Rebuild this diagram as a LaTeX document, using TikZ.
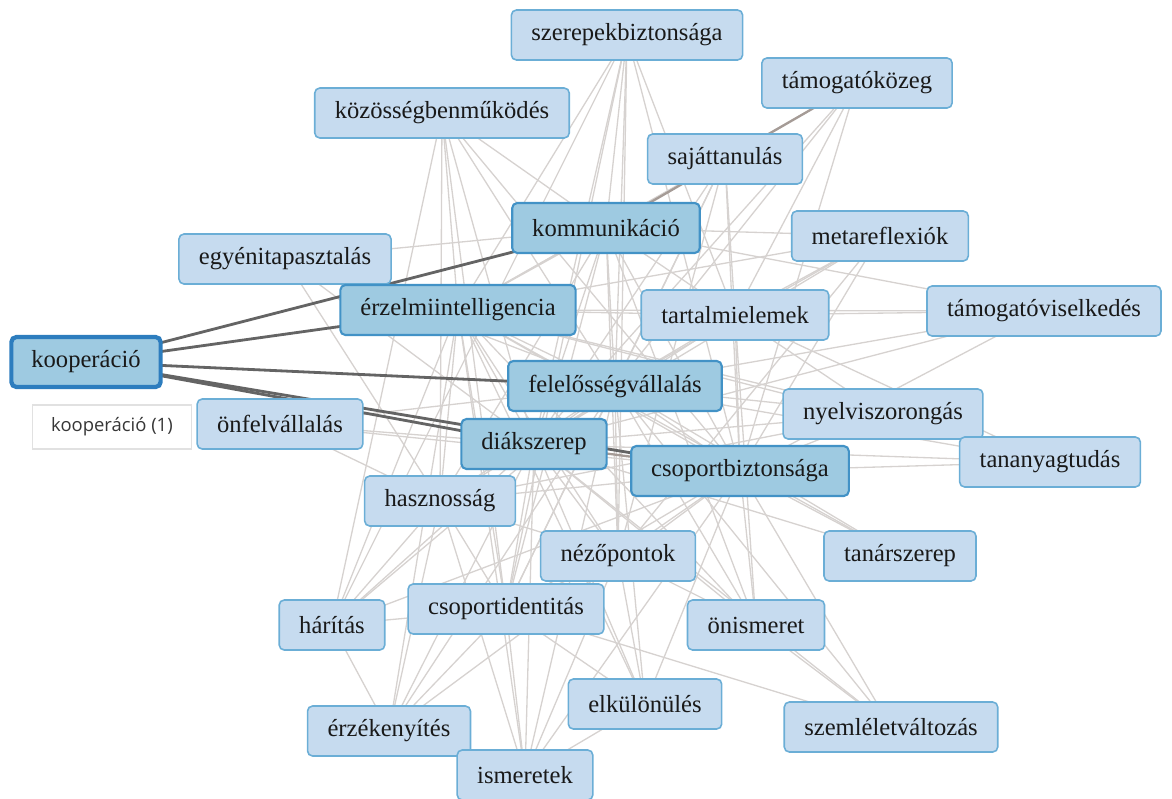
\documentclass[tikz,border=0pt]{standalone}
\usepackage{fontspec}
\setmainfont{Liberation Serif}
\newfontfamily\uisans{Open Sans}
\usetikzlibrary{backgrounds}

\definecolor{kwfill}{RGB}{198,219,239}
\definecolor{kwborder}{RGB}{107,174,214}
\definecolor{hubfill}{RGB}{158,202,225}
\definecolor{hubborder}{RGB}{66,146,198}
\definecolor{rootborder}{RGB}{45,125,190}
\definecolor{kwtext}{RGB}{25,25,25}
\definecolor{litelink}{RGB}{214,210,208}
\definecolor{midlink}{RGB}{165,155,150}
\definecolor{darklink}{RGB}{100,100,100}
\definecolor{tipborder}{RGB}{225,225,225}
\definecolor{tiptext}{RGB}{55,55,55}

\tikzset{
  kw/.style={draw=kwborder, fill=kwfill, rounded corners=0.1cm, line width=0.9pt,
    minimum height=1cm, inner xsep=0.4cm, text=kwtext, font=\fontsize{14}{16}\selectfont},
  kwhub/.style={kw, fill=hubfill, draw=hubborder, line width=1.2pt},
  kwroot/.style={kwhub, draw=rootborder, line width=2.4pt},
  tipbox/.style={draw=tipborder, fill=white, line width=0.6pt, minimum width=3.18cm,
    minimum height=0.88cm, text=tiptext, font=\uisans\fontsize{10.5}{12}\selectfont},
  litelk/.style={draw=litelink, line width=0.75pt},
  midlk/.style={draw=midlink, line width=1.3pt},
  darklk/.style={draw=darklink, line width=1.6pt}
}

\begin{document}
\begin{tikzpicture}[x=0.02cm, y=-0.02cm]
\useasboundingbox (0,0) rectangle (1172,798);

% keyword nodes
\node[kw]     (sz)  at (627,35)  {szerepekbiztonsága};
\node[kw]     (tk)  at (857,83)  {támogatóközeg};
\node[kw]     (km)  at (442,113) {közösségbenműködés};
\node[kw]     (st)  at (725,159) {sajáttanulás};
\node[kwhub]  (ko)  at (606,228) {kommunikáció};
\node[kw]     (mr)  at (880,236) {metareflexiók};
\node[kw]     (et)  at (285,259) {egyénitapasztalás};
\node[kwhub]  (ei)  at (458,310) {érzelmiintelligencia};
\node[kw]     (te)  at (735,315) {tartalmielemek};
\node[kw]     (tv)  at (1044,311) {támogatóviselkedés};
\node[kwroot] (kp)  at (86,362)  {kooperáció};
\node[kwhub]  (fv)  at (615,386) {felelősségvállalás};
\node[kw]     (of)  at (280,424) {önfelvállalás};
\node[kw]     (ny)  at (883,414) {nyelviszorongás};
\node[kwhub]  (ds)  at (534,444) {diákszerep};
\node[kwhub]  (cb)  at (740,471) {csoportbiztonsága};
\node[kw]     (tt)  at (1050,462) {tananyagtudás};
\node[kw]     (ha)  at (440,501) {hasznosság};
\node[kw]     (np)  at (618,556) {nézőpontok};
\node[kw]     (tsz) at (900,556) {tanárszerep};
\node[kw]     (hr)  at (332,625) {hárítás};
\node[kw]     (ci)  at (506,609) {csoportidentitás};
\node[kw]     (oi)  at (756,625) {önismeret};
\node[kw]     (ek)  at (645,704) {elkülönülés};
\node[kw]     (sv)  at (891,727) {szemléletváltozás};
\node[kw]     (ez)  at (389,731) {érzékenyítés};
\node[kw]     (is)  at (525,775) {ismeretek};

% hover label of the selected node
\node[tipbox] (tip) at (112,427) {kooperáció (1)};

\begin{pgfonlayer}{background}
  % weak co-occurrence links
  \foreach \a/\b in {
    sz/ko, sz/ei, sz/fv, sz/ds, sz/cb, sz/np, sz/ci, sz/hr, sz/te,
    tk/fv, tk/ds, tk/te, tk/cb, tk/ei,
    km/ko, km/fv, km/ds, km/ha, km/ci, km/ei, km/cb, km/hr,
    st/fv, st/ei, st/ds, st/te, st/cb, st/ci, st/np,
    ko/mr, ko/te, ko/cb, ko/ds, ko/fv, ko/ei, ko/np, ko/ci, ko/ha, ko/oi, ko/et,
    mr/ei, mr/fv, mr/ds, mr/cb, mr/np, mr/te,
    et/ei, et/ds, et/ha, et/fv,
    ei/te, ei/fv, ei/ds, ei/cb, ei/tv, ei/ny, ei/tt, ei/tsz, ei/oi, ei/ek,
    ei/is, ei/ez, ei/hr, ei/ci, ei/np, ei/ha,
    te/tv, te/fv, te/ds, te/cb, te/tt, te/ny, te/oi,
    tv/fv, tv/ds, tv/cb, tv/ko,
    fv/ds, fv/cb, fv/ny, fv/tt, fv/tsz, fv/oi, fv/sv, fv/ek, fv/is, fv/ez,
    fv/hr, fv/ci, fv/np, fv/ha, fv/of,
    of/ds, of/ha, of/cb,
    ny/ds, ny/cb, ny/tt, ny/ha,
    ds/tt, ds/tsz, ds/oi, ds/sv, ds/ek, ds/is, ds/ez, ds/hr, ds/ci, ds/np, ds/ha,
    cb/tt, cb/tsz, cb/oi, cb/sv, cb/ek, cb/is, cb/ez, cb/hr, cb/ci, cb/np, cb/ha,
    ha/ci, ha/hr, ha/ez, ha/is, ha/np,
    np/ci, np/ek, np/oi,
    hr/ci, hr/ez,
    ci/ez, ci/is, ci/ek, ci/sv,
    oi/sv, ek/is, is/np}
    \draw[litelk] (\a.center) -- (\b.center);
  % medium links
  \draw[midlk] (tk.center) -- (ko.center);
  \draw[midlk] (ds.center) -- (cb.center);
  % strong links of the selected node
  \foreach \b in {ko, ei, fv, ds, cb}
    \draw[darklk] (kp.center) -- (\b.center);
\end{pgfonlayer}
\end{tikzpicture}
\end{document}
